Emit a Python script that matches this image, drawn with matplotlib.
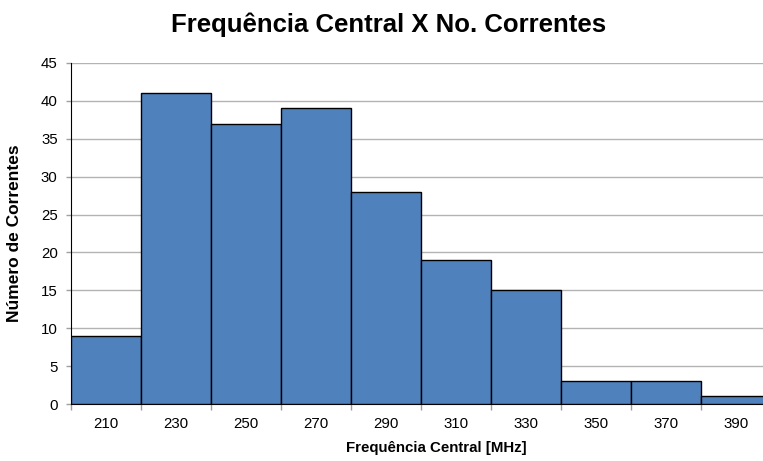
import matplotlib
matplotlib.use("Agg")
import matplotlib.pyplot as plt
from matplotlib.ticker import FixedLocator, NullFormatter

plt.rcParams['font.family'] = ['Liberation Sans', 'DejaVu Sans']

freqs = [210, 230, 250, 270, 290, 310, 330, 350, 370, 390]
counts = [9, 41, 37, 39, 28, 19, 15, 3, 3, 1]
y_ticks = [0, 5, 10, 15, 20, 25, 30, 35, 40, 45]
bin_width = 20

fig = plt.figure(figsize=(7.63, 4.61), dpi=100)
ax = fig.add_axes([71 / 763, 57 / 461, 692 / 763, 341 / 461])

ax.bar(freqs, counts, width=bin_width, color='#4F81BD', edgecolor='black',
       linewidth=1.0, zorder=3)

ax.set_xlim(200, 200 + 692 / 70 * bin_width)
ax.set_ylim(0, 45)
ax.set_yticks(y_ticks)
ax.yaxis.grid(True, color='#b3b3b3', linewidth=1.0, zorder=0)

# boundary ticks between bins, labels at bin centres
edges = [f - bin_width / 2 for f in freqs] + [freqs[-1] + bin_width / 2]
ax.xaxis.set_major_locator(FixedLocator(edges))
ax.xaxis.set_major_formatter(NullFormatter())
ax.xaxis.set_minor_locator(FixedLocator(freqs))
ax.set_xticklabels([str(f) for f in freqs], minor=True)
ax.tick_params(axis='x', which='major', length=4, color='#a0a0a0', width=1)
ax.tick_params(axis='x', which='minor', length=0, labelsize=10.8, pad=9)
ax.tick_params(axis='y', length=3.6, color='#a0a0a0', width=1, labelsize=10.8, pad=6)

for side in ['top', 'right']:
    ax.spines[side].set_visible(False)
ax.spines['left'].set_color('black')
ax.spines['bottom'].set_color('black')

ax.set_xlabel('Frequência Central [MHz]', fontsize=10.8, fontweight='bold')
ax.xaxis.set_label_coords((436 - 71) / 692, -37 / 341)
ax.yaxis.set_label_coords(-49 / 692, 0.5)
ax.set_ylabel('Número de Correntes', fontsize=12.5, fontweight='bold')
fig.suptitle('Frequência Central X No. Correntes', fontsize=18.5, fontweight='bold',
             x=389 / 763, y=1 - 25 / 461, va='center')

fig.savefig('out.png', dpi=100)
